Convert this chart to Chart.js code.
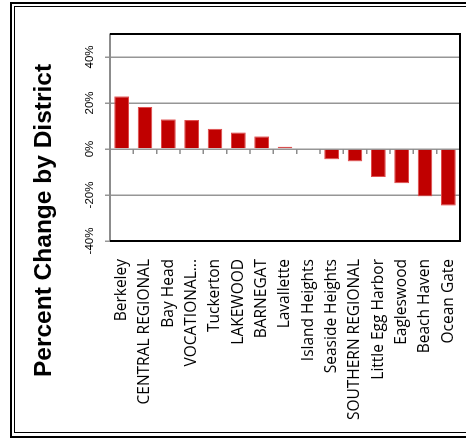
<!DOCTYPE html>
<html>
<head>
  <meta charset="UTF-8">
  <title>Percent Change by District</title>
  <script src="https://cdn.jsdelivr.net/npm/chart.js@4.4.1/dist/chart.umd.min.js"></script>
</head>
<style>
  html, body { margin: 0; padding: 0; background: #fff; }
  body { width: 466px; height: 441px; position: relative; overflow: hidden; }
  #myChart {
    position: absolute; left: 0; top: 0;
    width: 441px; height: 466px;
    transform-origin: 0 0;
    transform: translate(0, 441px) rotate(-90deg);
  }
  .frameOuter { position: absolute; left: 10px; top: 2px; width: 480px; height: 432px; border: 2px solid #000; }
  .frameInner { position: absolute; left: 14px; top: 6px; width: 480px; height: 425px; border: 1.5px solid #000; }
</style>
<body>
  <canvas id="myChart" width="441" height="466"></canvas>
  <div class="frameOuter"></div>
  <div class="frameInner"></div>

<script type="text/javascript">
  // districts, top of list = left of picture
  var districts = ['Berkeley', 'CENTRAL REGIONAL', 'Bay Head', 'VOCATIONAL...', 'Tuckerton', 'LAKEWOOD',
    'BARNEGAT', 'Lavallette', 'Island Heights', 'Seaside Heights', 'SOUTHERN REGIONAL',
    'Little Egg Harbor', 'Eagleswood', 'Beach Haven', 'Ocean Gate'];
  // percent change
  var pctChange = [22.9, 18.3, 12.9, 12.6, 8.8, 7.2, 5.5, 1.0, 0, -4.5, -5.4, -12.2, -14.9, -20.6, -24.6];
  var valueTicks = [-40, -20, 0, 20, 40];

  // black box on the three other sides of the plot
  var plotBorder = {
    id: 'plotBorder',
    afterDatasetsDraw: function (chart) {
      var a = chart.chartArea, ctx = chart.ctx;
      var xs = chart.scales.x, ys = chart.scales.y;
      // category tick marks on the zero line
      var x0 = xs.getPixelForValue(0);
      ctx.save();
      ctx.strokeStyle = '#8c8c8c';
      ctx.lineWidth = 1.5;
      ctx.beginPath();
      for (var i = 1; i < districts.length; i++) {
        var yb = (ys.getPixelForValue(i - 1) + ys.getPixelForValue(i)) / 2;
        ctx.moveTo(x0 - 5, yb);
        ctx.lineTo(x0, yb);
      }
      ctx.stroke();
      ctx.strokeStyle = '#000';
      ctx.lineWidth = 2;
      ctx.beginPath();
      ctx.moveTo(a.left, a.top);
      ctx.lineTo(a.left, a.bottom);
      ctx.lineTo(a.right, a.bottom);
      ctx.lineTo(a.right, a.top);
      ctx.stroke();
      ctx.restore();
    }
  };

  var ctx = document.getElementById('myChart');
  var myChart = new Chart(ctx, {
    type: 'bar',
    data: {
      labels: districts,
      datasets: [{
        data: pctChange,
        backgroundColor: '#C00000',
        borderColor: '#e04a4a',
        borderWidth: 1,
        categoryPercentage: 1,
        barPercentage: 0.63
      }]
    },
    options: {
      indexAxis: 'y',
      responsive: false,
      animation: false,
      layout: { padding: { top: 30, left: 0, right: 0, bottom: 6 } },
      plugins: {
        legend: { display: false },
        tooltip: { enabled: false },
        title: {
          display: true,
          text: 'Percent Change by District',
          color: '#000',
          padding: 0,
          font: { family: '"Liberation Sans", Arial, sans-serif', size: 24.5, weight: 'bold' }
        }
      },
      scales: {
        x: {
          position: 'top',
          min: -40,
          max: 50,
          afterBuildTicks: function (scale) {
            scale.ticks = valueTicks.map(function (v) { return { value: v }; });
          },
          afterFit: function (scale) {
            scale.height = 50.6;
            scale.paddingLeft = 0;
            scale.paddingRight = 34; // gap only under the plot, title stays centred
          },
          grid: { color: '#969696', lineWidth: 1.5, tickLength: 5 },
          border: { color: '#8c8c8c', width: 2 },
          ticks: {
            color: '#000',
            padding: 8.5,
            minRotation: 0,
            maxRotation: 0,
            font: { family: '"Liberation Sans", Arial, sans-serif', size: 11.5 },
            callback: function (v) { return v + '%'; }
          }
        },
        y: {
          afterFit: function (scale) {
            scale.width = 200;
            scale.paddingTop = 0;
            scale.paddingBottom = 0;
          },
          grid: { display: false, drawTicks: false },
          border: { display: false },
          ticks: {
            color: '#000',
            padding: 18,
            autoSkip: false,
            font: { family: '"Open Sans", sans-serif', size: 15.5 }
          }
        }
      }
    },
    plugins: [plotBorder]
  });
</script>
</body>
</html>
